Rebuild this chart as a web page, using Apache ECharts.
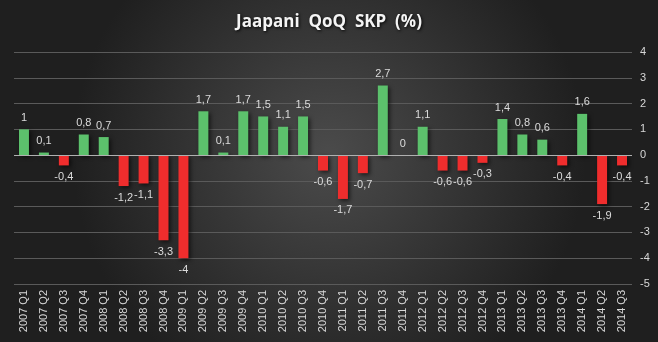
<!DOCTYPE html>
<html><head><meta charset="utf-8">
<script src="https://cdn.jsdelivr.net/npm/echarts@6/dist/echarts.min.js"></script>
<style>html,body{margin:0;padding:0;background:#2a2a2a}#c{width:658px;height:342px}</style>
</head><body><div id="c"></div>
<script>
const categories = ['2007 Q1','2007 Q2','2007 Q3','2007 Q4','2008 Q1','2008 Q2','2008 Q3','2008 Q4','2009 Q1','2009 Q2','2009 Q3','2009 Q4','2010 Q1','2010 Q2','2010 Q3','2010 Q4','2011 Q1','2011 Q2','2011 Q3','2011 Q4','2012 Q1','2012 Q2','2012 Q3','2012 Q4','2013 Q1','2013 Q2','2013 Q3','2013 Q4','2014 Q1','2014 Q2','2014 Q3'];
const values = [1,0.1,-0.4,0.8,0.7,-1.2,-1.1,-3.3,-4,1.7,0.1,1.7,1.5,1.1,1.5,-0.6,-1.7,-0.7,2.7,0,1.1,-0.6,-0.6,-0.3,1.4,0.8,0.6,-0.4,1.6,-1.9,-0.4];
const yMin = -5, yMax = 4, yStep = 1;
const titleText = 'Jaapani  QoQ  SKP  (%)';

const chart = echarts.init(document.getElementById('c'), null, {renderer:'canvas'});
const fmt = v => String(v).replace('.', ',');
chart.setOption({
  backgroundColor: {type:'radial', x:0.5, y:0.45, r:0.75, colorStops:[{offset:0,color:'#4b4b4b'},{offset:1,color:'#1f1f1f'}]},
  animation:false,
  title:{text:titleText, left:'center', top:9, textStyle:{color:'#f4f4f4', fontSize:17, fontWeight:'bold', fontFamily:'Open Sans', textShadowColor:'rgba(0,0,0,0.9)', textShadowBlur:3, textShadowOffsetX:1, textShadowOffsetY:1}},
  grid:{left:14, right:26, top:52, bottom:58},
  xAxis:{type:'category', data:categories, axisLine:{show:false}, axisTick:{show:false},
    axisLabel:{rotate:90, color:'#d8d8d8', fontSize:11, fontFamily:'Liberation Sans', margin:6, interval:0}},
  yAxis:{type:'value', position:'right', min:yMin, max:yMax, interval:yStep,
    axisLine:{show:false}, axisTick:{show:false},
    axisLabel:{color:'#d8d8d8', fontSize:11, fontFamily:'Liberation Sans', margin:8},
    splitLine:{lineStyle:{color:'#5a5a5a', width:1}}},
  series:[{type:'bar', data:values, barWidth:'50%',
    itemStyle:{color: p => p.value >= 0 ? '#5cc16c' : '#ef2d2d', shadowColor:'rgba(0,0,0,0.6)', shadowBlur:4, shadowOffsetX:2, shadowOffsetY:2},
    label:{show:true, position:'top', color:'#dcdcdc', fontSize:11, fontFamily:'Liberation Sans', distance:6, formatter: p => fmt(p.value)},
    labelLayout: p => ({}),
    markLine:{silent:true, symbol:'none', label:{show:false}, lineStyle:{color:'#b0b0b0', type:'solid', width:1}, data:[{yAxis:0}]}
  }]
});
// negative labels below the bar
chart.setOption({series:[{data: values.map(v => v < 0 ? {value:v, label:{position:'bottom'}} : v)}]});
</script></body></html>
